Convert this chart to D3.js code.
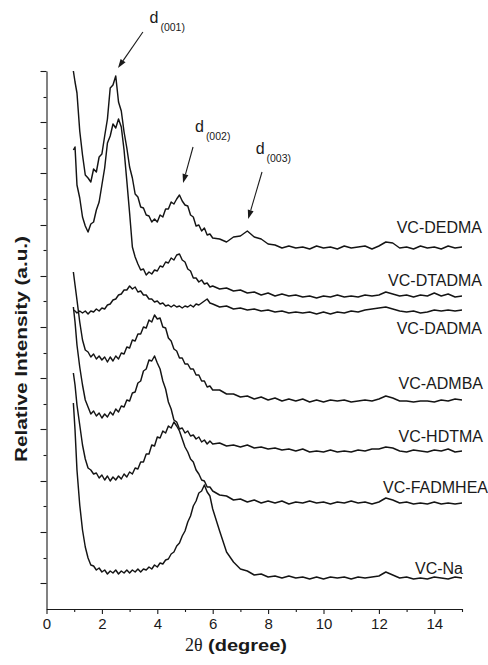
<!DOCTYPE html>
<html>
<head>
<meta charset="utf-8">
<script src="https://cdn.jsdelivr.net/npm/d3@7"></script>
<style>
  html, body { margin: 0; padding: 0; background: #fff; }
  svg { display: block; }
  text { fill: #1a1a1a; }
</style>
</head>
<body>
<svg id="chart" width="488" height="665"></svg>
<script>
// ---------------- DATA ----------------
const twoTheta = [0.97,1.03,1.1,1.2,1.3,1.4,1.5,1.6,1.7,1.8,1.9,2.0,2.1,2.2,2.3,2.4,2.5,2.6,2.7,2.8,2.9,3.0,3.1,3.2,3.3,3.4,3.5,3.6,3.7,3.8,3.9,4.0,4.1,4.2,4.3,4.4,4.5,4.6,4.7,4.8,4.9,5.0,5.1,5.2,5.3,5.4,5.5,5.6,5.7,5.8,5.9,6.0,6.25,6.5,6.75,7.0,7.25,7.5,7.75,8.0,8.25,8.5,8.75,9.0,9.25,9.5,9.75,10.0,10.25,10.5,10.75,11.0,11.25,11.5,11.75,12.0,12.25,12.5,12.75,13.0,13.25,13.5,13.75,14.0,14.25,14.5,14.75,15.0];

const vcDEDMA = [538,527,516,478,454,434,431,427,440,437,452,455,473,490,521,524,533,507,498,477,461,442,431,415,412,402,401,394,393,387,390,387,394,392,400,400,407,405,410,414,408,404,403,394,392,383,384,378,381,374,375,371,370,367,372,373,378,372,370,365,364,361,363,361,362,360,363,361,362,360,363,361,362,363,360,363,367,366,361,362,360,363,361,362,360,363,361,362];
const vcDTADMA = [459,462,424,411,392,383,377,385,387,399,407,424,441,466,473,485,481,490,482,459,428,396,362,352,345,339,340,334,337,335,339,338,343,342,347,346,351,349,354,355,349,347,340,338,331,331,327,329,325,326,322,323,320,321,318,319,316,317,314,316,313,315,313,314,312,313,311,313,312,314,312,313,312,314,313,314,317,315,313,314,312,314,313,316,313,315,312,313];
const vcDADMA = [299,298,296,298,296,298,295,298,297,300,298,301,300,304,305,309,310,314,315,319,319,323,320,322,317,318,314,314,310,310,307,308,305,306,303,304,302,304,302,303,301,303,302,304,302,305,304,306,308,310,306,305,302,303,300,301,299,300,298,299,297,298,296,297,296,297,295,297,295,297,296,298,297,299,300,301,302,300,298,297,298,296,297,299,298,299,298,299];
const vcADMBA = [337,324,309,287,269,259,257,252,255,250,253,249,252,247,252,248,253,250,256,255,262,261,269,268,275,275,282,281,289,287,294,290,291,282,281,271,268,260,258,251,251,245,245,240,240,234,234,228,228,222,223,219,219,215,215,212,213,210,212,209,211,208,210,208,210,207,209,207,209,208,209,207,208,209,208,210,213,211,208,208,207,208,208,207,209,208,210,209];
const vcHDTMA = [302,287,264,242,224,209,202,195,198,193,196,191,195,192,197,194,200,197,203,202,209,208,216,217,226,228,238,240,249,248,253,246,240,228,220,207,200,189,187,180,181,176,178,173,174,170,172,167,169,165,168,165,166,163,164,162,164,161,162,160,161,159,160,158,160,157,158,157,159,157,158,157,159,158,160,160,162,161,158,157,159,158,157,159,158,160,157,158];
const vcFADMHEA = [236,224,204,184,164,150,141,139,135,136,131,134,129,133,128,132,129,133,130,135,132,137,135,141,140,147,147,155,155,164,163,172,171,178,176,183,181,187,183,178,170,162,157,150,147,139,135,129,128,122,122,118,114,113,109,110,107,109,106,108,106,108,105,107,106,108,106,107,105,107,106,108,106,107,105,107,111,109,106,107,105,106,105,107,105,106,105,106];
const vcNa = [206,179,139,104,79,62,51,44,43,39,41,37,39,35,38,36,39,35,38,36,39,36,39,37,40,37,40,39,42,40,44,42,46,45,49,50,55,57,63,66,73,78,87,93,103,108,116,118,124,117,113,100,78,57,47,40,38,34,35,32,33,31,33,31,32,30,32,30,32,31,32,30,32,31,32,33,37,34,31,32,30,31,30,32,31,30,32,31];

const sampleNames = ["VC-DEDMA","VC-DTADMA","VC-DADMA","VC-ADMBA","VC-HDTMA","VC-FADMHEA","VC-Na"];
const sampleSeries = [vcDEDMA, vcDTADMA, vcDADMA, vcADMBA, vcHDTMA, vcFADMHEA, vcNa];

const xMajorTicks = [0,2,4,6,8,10,12,14];
const xMinorTicks = [1,3,5,7,9,11,13,15];
const yMajorTicks = [26,77,128,180,231,282,333,384,436,487,538];
const yMinorTicks = [51,103,154,205,256,308,359,410,461,512];

const peakLabels = ["(001)","(002)","(003)"];
// annotation anchors in data units: [text x, text y, arrow tail x, tail y, tip x, tip y]
const peakAnno = [
  [3.72, 586, 3.48, 577, 2.58, 541],
  [5.36, 477, 5.29, 462, 4.93, 426],
  [7.55, 455, 7.78, 437, 7.28, 390]
];

// ---------------- LAYOUT ----------------
const svg = d3.select("#chart");
const x = d3.scaleLinear().domain([0, 15]).range([46.5, 462]);
const y = d3.scaleLinear().domain([0, 538]).range([609, 71]);
const FONT = "'Liberation Sans', Arial, Helvetica, sans-serif";
const labelPos = [[482,233],[482,286],[482,334],[483,389],[483,442],[488,493],[463,574]];

// axes
const gx = svg.append("g").attr("transform", "translate(0,609)")
  .call(d3.axisBottom(x).tickValues(xMajorTicks).tickSize(5).tickSizeOuter(0).tickPadding(4));
gx.selectAll("text").attr("font-family", FONT).attr("font-size", 15).attr("fill", "#1a1a1a");
const gxm = svg.append("g").attr("transform", "translate(0,609)")
  .call(d3.axisBottom(x).tickValues(xMinorTicks).tickSize(3).tickSizeOuter(0).tickFormat(""));
gxm.select(".domain").remove();

const gy = svg.append("g").attr("transform", "translate(46.5,0)")
  .call(d3.axisLeft(y).tickValues(yMajorTicks).tickSize(6).tickSizeOuter(0).tickFormat(""));
const gym = svg.append("g").attr("transform", "translate(46.5,0)")
  .call(d3.axisLeft(y).tickValues(yMinorTicks).tickSize(3).tickSizeOuter(0).tickFormat(""));
gym.select(".domain").remove();
svg.selectAll(".domain, .tick line").attr("stroke", "#1a1a1a").attr("stroke-width", 1.1);

// curves
const line = d3.line().x((d, i) => x(twoTheta[i])).y(d => y(d));
svg.append("g").selectAll("path").data(sampleSeries).join("path")
  .attr("d", line)
  .attr("fill", "none")
  .attr("stroke", "#141414")
  .attr("stroke-width", 1.45)
  .attr("stroke-linejoin", "round");

// sample labels
svg.append("g").selectAll("text").data(sampleNames).join("text")
  .attr("x", (d, i) => labelPos[i][0])
  .attr("y", (d, i) => labelPos[i][1])
  .attr("text-anchor", "end")
  .attr("font-family", FONT)
  .attr("font-size", 16)
  .text(d => d);

// peak annotations
const ag = svg.append("g");
peakAnno.forEach((a, i) => {
  const t = ag.append("text").attr("x", x(a[0])).attr("y", y(a[1]))
    .attr("font-family", FONT).attr("font-size", 16);
  t.append("tspan").text("d");
  t.append("tspan").attr("font-size", 10.5).attr("dx", 2).attr("dy", 8).text(peakLabels[i]);
  const x1 = x(a[2]), y1 = y(a[3]), x2 = x(a[4]), y2 = y(a[5]);
  const ang = Math.atan2(y2 - y1, x2 - x1);
  const L = 9, W = 3;
  const bx = x2 - L * Math.cos(ang), by = y2 - L * Math.sin(ang);
  ag.append("line").attr("x1", x1).attr("y1", y1).attr("x2", bx).attr("y2", by)
    .attr("stroke", "#1a1a1a").attr("stroke-width", 1.1);
  ag.append("path")
    .attr("d", `M${x2},${y2}L${bx + W * Math.sin(ang)},${by - W * Math.cos(ang)}L${bx - W * Math.sin(ang)},${by + W * Math.cos(ang)}Z`)
    .attr("fill", "#1a1a1a");
});

// axis titles
svg.append("text").attr("x", 185).attr("y", 651)
  .attr("font-family", "'Liberation Serif', 'Times New Roman', serif")
  .attr("font-size", 18).text("2θ");
svg.append("text").attr("x", 208).attr("y", 651)
  .attr("font-family", FONT).attr("font-size", 16).attr("font-weight", "bold")
  .attr("textLength", 79).attr("lengthAdjust", "spacingAndGlyphs").text("(degree)");

svg.append("text")
  .attr("transform", "translate(27,349) rotate(-90)")
  .attr("text-anchor", "middle")
  .attr("font-family", FONT).attr("font-size", 16).attr("font-weight", "bold")
  .attr("textLength", 226).attr("lengthAdjust", "spacingAndGlyphs")
  .text("Relative Intensity (a.u.)");
</script>
</body>
</html>
